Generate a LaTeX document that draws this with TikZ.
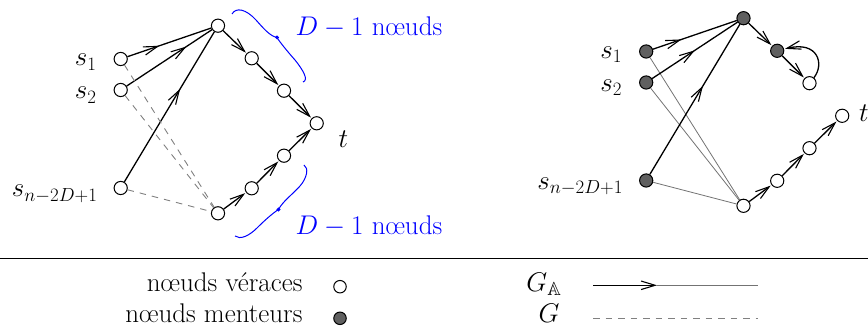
\RequirePackage{fix-cm}
\documentclass[tikz,border=0pt]{standalone}
\usepackage{amssymb}
\usepackage{fontspec}
\usetikzlibrary{arrows.meta,decorations.markings}
\newcommand{\myfs}{\fontsize{27}{32}\selectfont}
\definecolor{liar}{HTML}{606060}
\definecolor{dashgray}{gray}{0.5}
\definecolor{thingray}{gray}{0.45}
\begin{document}
\begin{tikzpicture}[x=1pt,y=-1pt,font=\myfs,
  >={Straight Barb[length=14pt,width=8.5pt,line width=1.1pt]},
  vnode/.style={circle,draw,line width=1pt,minimum size=13.2pt,inner sep=0pt,fill=white},
  lnode/.style={vnode,fill=liar},
  blk/.style={line width=1.3pt},
  midarr/.style={postaction={decorate,decoration={markings,mark=at position #1 with {\arrow{>}}}}},
  chainarr/.style={blk,->,shorten >=1pt},
  dashe/.style={draw=dashgray,line width=0.9pt,dash pattern=on 6.5pt off 6pt},
  grayline/.style={draw=thingray,line width=0.8pt},
  bracestyle/.style={draw=blue,line width=1pt},
]
\useasboundingbox (0,0) rectangle (868,336);

% ---------- left graph ----------
\node[vnode] (s1) at (120.7,59) {};
\node[vnode] (s2) at (120.7,90) {};
\node[vnode] (sn) at (120.7,188) {};
\node[vnode] (a0) at (218,25.7) {};
\node[vnode] (a1) at (251.7,58.3) {};
\node[vnode] (a2) at (284,90.7) {};
\node[vnode] (t) at (316.7,123.3) {};
\node[vnode] (b2) at (284,155.7) {};
\node[vnode] (b1) at (251.7,188.3) {};
\node[vnode] (b0) at (218,213.3) {};

\node[anchor=base east] (ls1) at (100,66) {$s_1$};
\node[anchor=base east] (ls2) at (100,99) {$s_2$};
\node[anchor=base east] (lsn) at (101,197) {$s_{n-2D+1}$};
\node[anchor=base west] (lt) at (335,148) {$t$};

\draw[blk,midarr=0.38] (s1) -- (a0);
\draw[blk,midarr=0.7] (s2) -- (a0);
\draw[blk,midarr=0.62] (sn) -- (a0);
\draw[chainarr] (a0) -- (a1);
\draw[chainarr] (a1) -- (a2);
\draw[chainarr] (a2) -- (t);
\draw[chainarr] (b0) -- (b1);
\draw[chainarr] (b1) -- (b2);
\draw[chainarr] (b2) -- (t);
\draw[dashe] (s1) -- (b0);
\draw[dashe] (s2) -- (b0);
\draw[dashe] (sn) -- (b0);

% braces
\draw[bracestyle] (232,14) .. controls (236,7) and (246,9) .. (256,20) .. controls (264,29) and (270,36) .. (277,37.5) .. controls (279,41) and (287,51) .. (295,60) .. controls (303,70) and (309,80) .. (303,82);
\draw[bracestyle] (277,37.5) circle (1.3);
\draw[bracestyle] (304,165) .. controls (309,168) and (307,178) .. (300,186) .. controls (293,194) and (283,201) .. (278.5,209.5) .. controls (273,213) and (265,220) .. (257,228) .. controls (249,236) and (240,240) .. (235,236);
\draw[bracestyle] (278.5,209.5) circle (1.3);
\node[anchor=base west,text=blue] (dtop) at (292,36) {$D-1$ n\oe uds};
\node[anchor=base west,text=blue] (dbot) at (292,235) {$D-1$ n\oe uds};

% ---------- right graph ----------
\begin{scope}[shift={(525.5,-7.5)}]
\node[lnode] (rs1) at (120.7,59) {};
\node[lnode] (rs2) at (120.7,90) {};
\node[lnode] (rsn) at (120.7,188) {};
\node[lnode] (ra0) at (218,25.7) {};
\node[lnode] (ra1) at (251.7,58.3) {};
\node[vnode] (ra2) at (284,90.7) {};
\node[vnode] (rt) at (316.7,123.3) {};
\node[vnode] (rb2) at (284,155.7) {};
\node[vnode] (rb1) at (251.7,188.3) {};
\node[vnode] (rb0) at (218,213.3) {};

\node[anchor=base east] (rls1) at (100,66) {$s_1$};
\node[anchor=base east] (rls2) at (100,99) {$s_2$};
\node[anchor=base east] (rlsn) at (101,197) {$s_{n-2D+1}$};
\node[anchor=base west] (rlt) at (330,129.5) {$t$};

\draw[grayline] (rs1) -- (rb0);
\draw[grayline] (rs2) -- (rb0);
\draw[grayline] (rsn) -- (rb0);
\draw[blk,midarr=0.34] (rs1) -- (ra0);
\draw[blk,midarr=0.5] (rs2) -- (ra0);
\draw[blk,midarr=0.59] (rsn) -- (ra0);
\draw[chainarr] (ra0) -- (ra1);
\draw[chainarr] (ra1) -- (ra2);
\draw[blk,->,shorten >=1pt] (ra2) .. controls (299,72) and (293,48) .. (ra1);
\draw[chainarr] (rb0) -- (rb1);
\draw[chainarr] (rb1) -- (rb2);
\draw[chainarr] (rb2) -- (rt);
\end{scope}

% ---------- legend ----------
\coordinate (r1) at (0,258);
\coordinate (r2) at (868,258);
\draw[line width=0.9pt] (r1) -- (r2);

\node[anchor=base east] (lv) at (306,291.5) {n\oe uds v\'eraces};
\node[anchor=base east] (lm) at (306,322.5) {n\oe uds menteurs};
\node[vnode,minimum size=12.5pt] (cv) at (340,286.7) {};
\node[lnode,minimum size=12.5pt] (cm) at (340,318.3) {};

\node[anchor=base east] (gA) at (565,291.5) {$G_{\mathbb{A}}$};
\node[anchor=base east] (gG) at (563,322.5) {$G$};
\coordinate (la) at (593,285.3);
\coordinate (lmid) at (657,285.3);
\coordinate (lb) at (758,285.3);
\coordinate (da) at (593,318.3);
\coordinate (db) at (758,318.3);
\draw[blk,->] (la) -- (lmid);
\draw[draw=thingray,line width=1.3pt] (lmid) -- (lb);
\draw[dashe] (da) -- (db);
\end{tikzpicture}
\end{document}
